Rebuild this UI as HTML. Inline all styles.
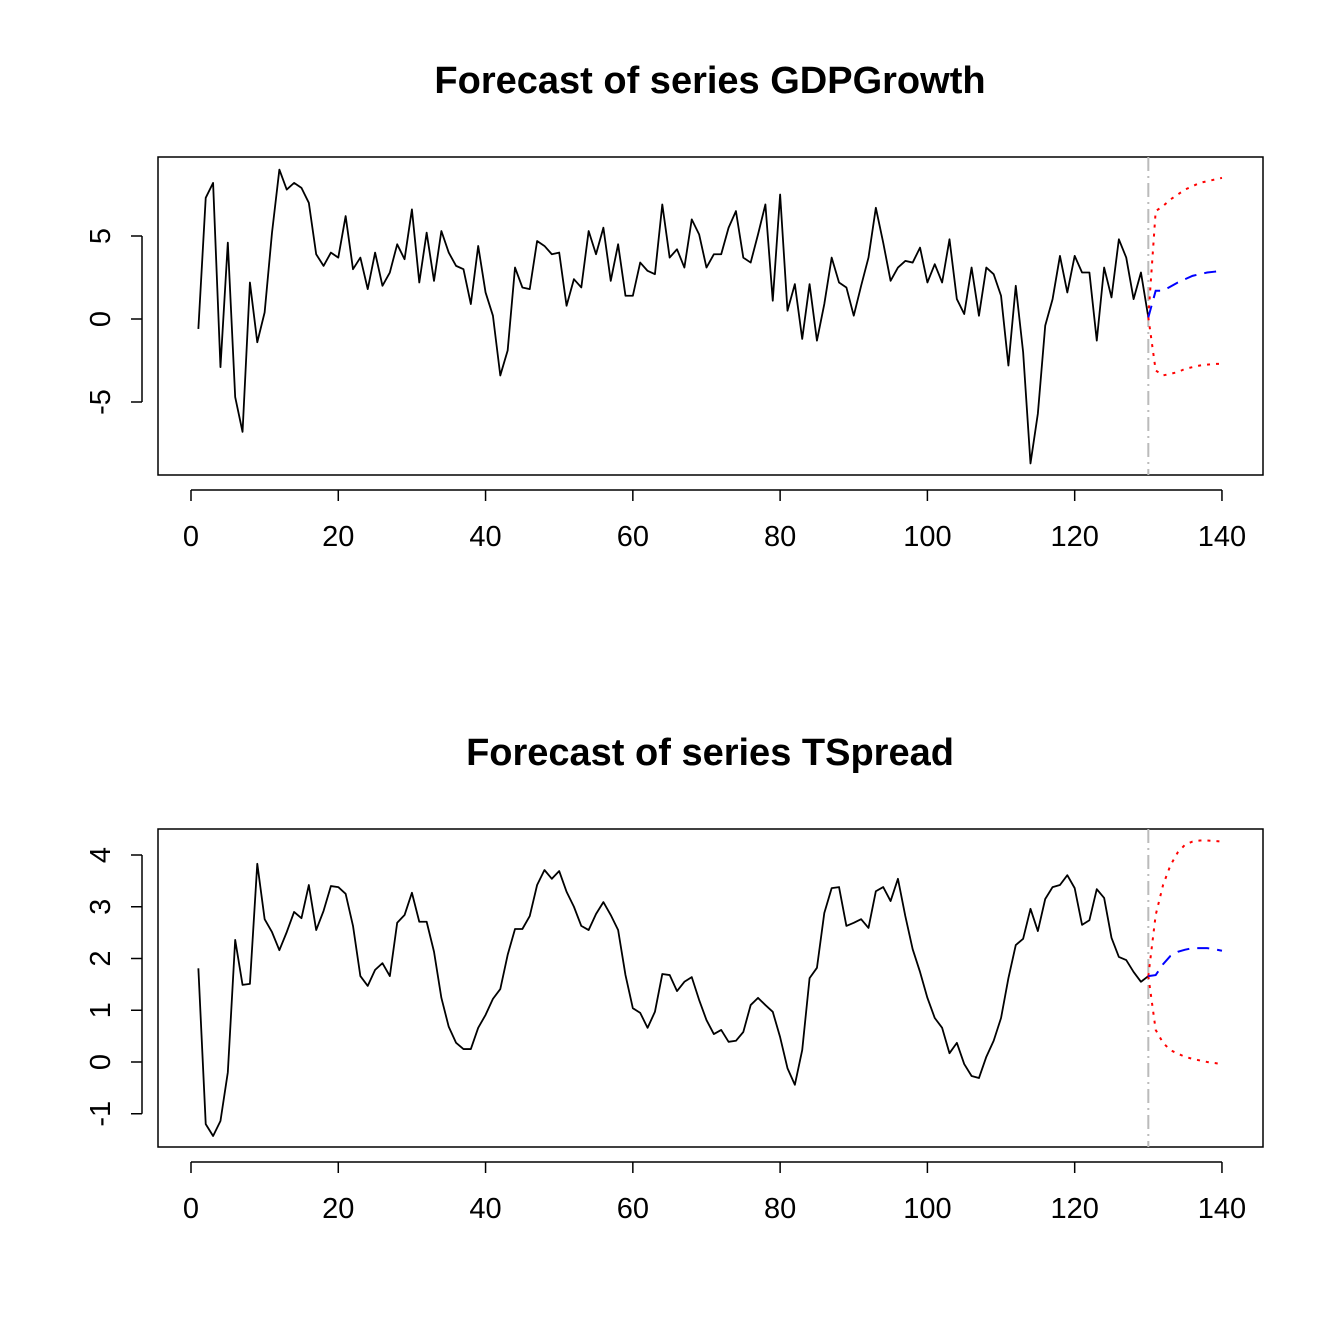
<!DOCTYPE html>
<html><head><meta charset="utf-8"><style>
html,body{margin:0;padding:0;background:#fff;}
svg{display:block;font-family:"Liberation Sans",Arial,sans-serif;}
</style></head><body>
<svg id="chart" width="1344" height="1344" viewBox="0 0 1344 1344" xmlns="http://www.w3.org/2000/svg">
<rect width="1344" height="1344" fill="#fff"/>
</svg>
<script>
const gdp = [-0.6,7.3,8.2,-2.9,4.6,-4.7,-6.8,2.2,-1.4,0.4,5.2,9.0,7.8,8.2,7.9,7.0,3.9,3.2,4.0,3.7,6.2,3.0,3.7,1.8,4.0,2.0,2.8,4.5,3.6,6.6,2.2,5.2,2.3,5.3,4.0,3.2,3.0,0.9,4.4,1.6,0.2,-3.4,-1.9,3.1,1.9,1.8,4.7,4.4,3.9,4.0,0.8,2.4,1.9,5.3,3.9,5.5,2.3,4.5,1.4,1.4,3.4,2.9,2.7,6.9,3.7,4.2,3.1,6.0,5.1,3.1,3.9,3.9,5.5,6.5,3.7,3.4,5.1,6.9,1.1,7.5,0.5,2.1,-1.2,2.1,-1.3,0.9,3.7,2.2,1.9,0.2,2.0,3.7,6.7,4.6,2.3,3.1,3.5,3.4,4.3,2.2,3.3,2.2,4.8,1.2,0.3,3.1,0.2,3.1,2.7,1.4,-2.8,2.0,-2.0,-8.7,-5.7,-0.4,1.2,3.8,1.6,3.8,2.8,2.8,-1.3,3.1,1.3,4.8,3.7,1.2,2.8,0.1];
const gdpFcst = [1.7,1.7,1.95,2.2,2.4,2.6,2.7,2.8,2.85,2.9];
const gdpUpper = [6.5,6.8,7.2,7.5,7.8,8.0,8.2,8.3,8.4,8.5];
const gdpLower = [-3.1,-3.4,-3.3,-3.2,-3.0,-2.9,-2.8,-2.75,-2.7,-2.7];
const tsp = [1.81,-1.2,-1.43,-1.14,-0.2,2.36,1.49,1.51,3.83,2.76,2.51,2.16,2.51,2.9,2.78,3.42,2.55,2.92,3.4,3.38,3.25,2.63,1.66,1.47,1.78,1.91,1.66,2.69,2.84,3.27,2.71,2.71,2.13,1.24,0.68,0.37,0.25,0.25,0.66,0.91,1.22,1.41,2.07,2.57,2.57,2.82,3.42,3.71,3.54,3.69,3.29,3.0,2.63,2.55,2.86,3.09,2.84,2.55,1.68,1.04,0.95,0.66,0.97,1.70,1.68,1.37,1.55,1.64,1.2,0.81,0.54,0.62,0.39,0.41,0.58,1.1,1.24,1.1,0.97,0.48,-0.12,-0.44,0.23,1.62,1.82,2.88,3.36,3.38,2.63,2.69,2.76,2.59,3.3,3.38,3.11,3.54,2.82,2.18,1.74,1.24,0.85,0.66,0.17,0.37,-0.04,-0.27,-0.31,0.1,0.41,0.85,1.62,2.26,2.38,2.96,2.53,3.15,3.38,3.42,3.61,3.36,2.65,2.74,3.34,3.17,2.4,2.03,1.97,1.74,1.55,1.66];
const tspFcst = [1.68,1.89,2.05,2.13,2.17,2.2,2.2,2.2,2.18,2.15];
const tspUpper = [2.84,3.42,3.8,4.05,4.2,4.26,4.28,4.28,4.27,4.26];
const tspLower = [0.62,0.37,0.23,0.16,0.1,0.06,0.03,0.0,-0.02,-0.04];
const xTicks = [0,20,40,60,80,100,120,140];
const gdpYTicks = [-5,0,5];
const tspYTicks = [-1,0,1,2,3,4];

const NS = "http://www.w3.org/2000/svg";
const svg = document.getElementById('chart');
function mk(tag, attrs, parent){const e=document.createElementNS(NS,tag);for(const k in attrs)e.setAttribute(k,attrs[k]);(parent||svg).appendChild(e);return e;}
const xs = v => 191 + 7.364*v;

function panel(cfg){
  const g = mk('g',{});
  
  
  const ys = v => cfg.y0 - v*cfg.k;
  const t = mk('text',{x:710,y:cfg.titleY,'text-anchor':'middle','font-size':'38','font-weight':'bold'},g);
  t.textContent = cfg.title;
  
  
  const box = mk('rect',{x:158,y:cfg.top,width:1105,height:318,fill:'none',stroke:'#000','stroke-width':1.5},g);
  
  
  const ax = mk('g',{},g);
  
  
  const axY = cfg.top+333;
  mk('line',{x1:xs(xTicks[0]),x2:xs(xTicks[xTicks.length-1]),y1:axY,y2:axY,stroke:'#000','stroke-width':1.5},ax);
  xTicks.forEach(v=>{
    mk('line',{x1:xs(v),x2:xs(v),y1:axY,y2:axY+11,stroke:'#000','stroke-width':1.5},ax);
    const l=mk('text',{x:xs(v),y:axY+56,'text-anchor':'middle','font-size':'29'},ax);
    l.textContent=v;
    
    
  });
  const ay = mk('g',{},g);
  
  
  const yt = cfg.yTicks;
  mk('line',{x1:142,x2:142,y1:ys(yt[0]),y2:ys(yt[yt.length-1]),stroke:'#000','stroke-width':1.5},ay);
  yt.forEach(v=>{
    mk('line',{x1:131,x2:142,y1:ys(v),y2:ys(v),stroke:'#000','stroke-width':1.5},ay);
    const l=mk('text',{x:110,y:ys(v),'text-anchor':'middle','font-size':'29',transform:`rotate(-90 110 ${ys(v)})`},ay);
    l.textContent=v;
    
    
  });
  const vl = mk('line',{x1:xs(130),x2:xs(130),y1:cfg.top,y2:cfg.top+318,stroke:'#bbb','stroke-width':2,'stroke-dasharray':'14 5 2 5'},g);
  
  
  const n = cfg.series.length;
  const sp = mk('polyline',{points:cfg.series.map((v,i)=>xs(i+1)+','+ys(v)).join(' '),fill:'none',stroke:'#000','stroke-width':1.8,'stroke-linejoin':'round'},g);
  
  
  const last = cfg.series[n-1];
  const fl = (arr,col,dash,name)=>{
    const pts=[xs(n)+','+ys(last)].concat(arr.map((v,i)=>xs(n+1+i)+','+ys(v)));
    const p=mk('polyline',{points:pts.join(' '),fill:'none',stroke:col,'stroke-width':2,'stroke-dasharray':dash},g);
    
    
  };
  fl(cfg.upper,'#ff0000','3 6','upper-interval');
  fl(cfg.lower,'#ff0000','3 6','lower-interval');
  fl(cfg.fcst,'#0000ff','12 8','forecast-mean');
}
panel({name:'gdpgrowth-panel',title:'Forecast of series GDPGrowth',titleY:93,top:157,y0:319,k:16.6,yTicks:gdpYTicks,series:gdp,fcst:gdpFcst,upper:gdpUpper,lower:gdpLower});
panel({name:'tspread-panel',title:'Forecast of series TSpread',titleY:765,top:829,y0:1062,k:51.75,yTicks:tspYTicks,series:tsp,fcst:tspFcst,upper:tspUpper,lower:tspLower});
</script>
</body></html>
